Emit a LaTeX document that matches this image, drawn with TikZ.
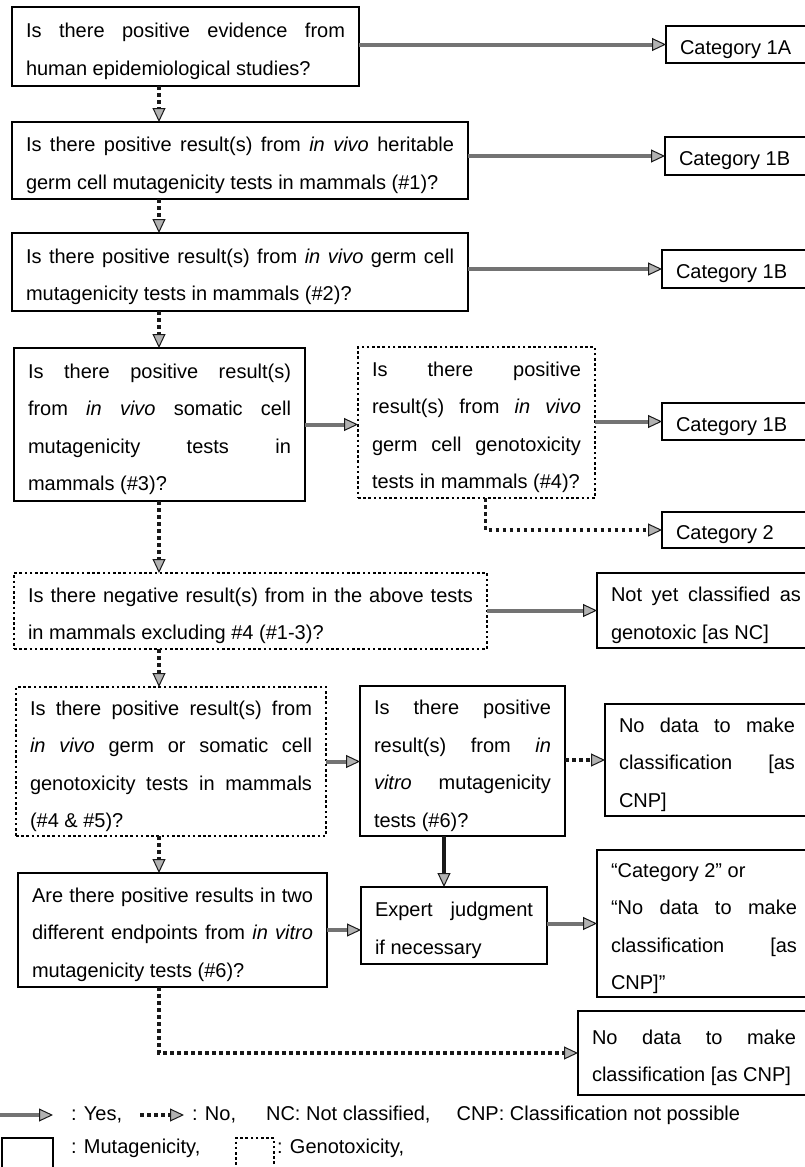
\documentclass[tikz,border=0pt]{standalone}
\usepackage{fontspec}
\setmainfont{Liberation Sans}
\usepackage{tikz}
\usetikzlibrary{arrows, arrows.meta, positioning}

\newcommand{\qfont}{\fontsize{20pt}{37.5pt}\selectfont}
\tolerance=10000
\hbadness=10000
\hyphenpenalty=10000
\exhyphenpenalty=10000

\begin{document}
\begin{tikzpicture}[x=1pt, y=-1pt]
\tikzstyle{block} = [rectangle, draw, line width=2.3pt, outer sep=0pt, inner xsep=14pt, inner ysep=0pt, align=justify, anchor=north west, font=\qfont, execute at begin node={\noindent\rule{0pt}{24pt}}]
\tikzstyle{gblock} = [block, line width=2.8pt, dash pattern=on 2.6pt off 2.6pt]
\tikzstyle{legbox} = [rectangle, draw, line width=2.3pt, outer sep=0pt, inner sep=0pt, anchor=north west]
\tikzstyle{line} = [draw=black!55, line width=4pt, -{Triangle[length=14pt, width=13pt, color=black!90, fill=gray!60, line width=1pt]}]
\tikzstyle{dline} = [line, draw=black!90, line width=3.5pt, dash pattern=on 3.5pt off 3.5pt]
\tikzstyle{legtext} = [font=\qfont, inner sep=0pt, outer sep=0pt]

\useasboundingbox (0,0) rectangle (805,1167);
\clip (0,0) rectangle (805,1167);
\coordinate (spine) at (159,0);
\coordinate (vx) at (444,0);

% left column
\node [block, text width=319pt, minimum height=79pt] (human) at (12,7) {Is there positive evidence from\break human epidemiological studies?};
\node [block, text width=428pt, minimum height=77pt] (heritable) at (12,122) {Is there positive result(s) from \textit{in vivo} heritable\break germ cell mutagenicity tests in mammals (\#1)?};
\node [block, text width=428pt, minimum height=78pt] (germ) at (12,233) {Is there positive result(s) from \textit{in vivo} germ cell\break mutagenicity tests in mammals (\#2)?};
\node [block, text width=263pt, minimum height=153pt] (somatic) at (14,348) {Is there positive result(s)\break from \textit{in vivo} somatic cell\break mutagenicity tests in\break mammals (\#3)?};
\node [gblock, text width=209pt, minimum height=151pt] (germgeno) at (358,347) {Is there positive\break result(s) from \textit{in vivo}\break germ cell genotoxicity\break tests in mammals (\#4)?};
\node [gblock, text width=445pt, minimum height=76pt] (negative) at (14,573) {Is there negative result(s) from in the above tests\break in mammals excluding \#4 (\#1-3)?};
\node [gblock, text width=282pt, minimum height=149pt] (genotox) at (16,687) {Is there positive result(s) from\break \textit{in vivo} germ or somatic cell\break genotoxicity tests in mammals\break (\#4 \& \#5)?};
\node [block, text width=177pt, minimum height=150pt] (invitro) at (360,686) {Is there positive\break result(s) from \textit{in}\break \textit{vitro} mutagenicity\break tests (\#6)?};
\node [block, text width=281pt, minimum height=114pt] (twoend) at (18,873) {Are there positive results in two\break different endpoints from \textit{in vitro}\break mutagenicity tests (\#6)?};
\node [block, text width=158pt, minimum height=77pt] (expert) at (361,887) {Expert judgment\break if necessary};

% right column
\node [block, text width=121pt, minimum height=37pt] (cata) at (666,26) {Category 1A};
\node [block, text width=122pt, minimum height=38pt] (catb1) at (665,137) {Category 1B};
\node [block, text width=125pt, minimum height=38pt] (catb2) at (662,250) {Category 1B};
\node [block, text width=125pt, minimum height=37pt] (catb3) at (662,403) {Category 1B};
\node [block, text width=125pt, minimum height=36pt] (cattwo) at (662,512) {Category 2};
\node [block, text width=190pt, minimum height=75pt] (notyet) at (597,573) {Not yet classified as\break genotoxic [as NC]};
\node [block, text width=176pt, minimum height=112pt] (nodata) at (605,704) {No data to make\break classification [as\break CNP]};
\node [block, text width=186pt, minimum height=147pt] (eitheror) at (597,850) {“Category 2" or\hfil\break “No data to make\break classification [as\break CNP]"};
\node [block, text width=204pt, minimum height=84pt] (nodatab) at (578,1011) {No data to make\break classification [as CNP]};

% no
\path [dline] (human.south -| spine) -- (heritable.north -| spine);
\path [dline] (heritable.south -| spine) -- (germ.north -| spine);
\path [dline] (germ.south -| spine) -- (somatic.north -| spine);
\path [dline] (somatic.south -| spine) -- (negative.north -| spine);
\path [dline] (negative.south -| spine) -- (genotox.north -| spine);
\path [dline] (genotox.south -| spine) -- (twoend.north -| spine);
\path [dline] (twoend.south -| spine) |- (nodatab.west);
\path [dline] ([xshift=9pt]germgeno.south) |- (cattwo.west);
\path [dline] (invitro.east |- nodata) -- (nodata.west);

% yes
\path [line] (human.east |- cata) -- (cata.west);
\path [line] (heritable.east |- catb1) -- (catb1.west);
\path [line] (germ.east |- catb2) -- (catb2.west);
\path [line] (somatic.east) -- (somatic.east -| germgeno.west);
\path [line] (germgeno.east |- catb3) -- (catb3.west);
\path [line] (negative.east |- notyet) -- (notyet.west);
\path [line] (genotox.east) -- (genotox.east -| invitro.west);
\path [line, draw=black!90] (invitro.south -| vx) -- (expert.north -| vx);
\path [line] (twoend.east) -- (twoend.east -| expert.west);
\path [line] (expert.east |- eitheror) -- (eitheror.west);

% legend
\coordinate (ya) at (0,1115);
\coordinate (yb) at (53,1115);
\path [line] (ya) -- (yb);
\node [legtext, right=18pt of yb] (lyes) {: Yes,};
\coordinate (na) at (140,1115);
\coordinate (nb) at (184,1115);
\path [dline] (na) -- (nb);
\node [legtext, right=8pt of nb] (lno) {: No,};
\node [legtext, right=30pt of lno] (lnc) {NC: Not classified,};
\node [legtext, right=26pt of lnc] (lcnp) {CNP: Classification not possible};
\node [legbox, minimum width=51pt, minimum height=40pt] (lmut) at (2,1138) {};
\node [legtext, anchor=base west] (lmtext) at (71,1153) {: Mutagenicity,};
\node [legbox, line width=2.8pt, dash pattern=on 2.6pt off 2.6pt, minimum width=38pt, minimum height=40pt] (lgen) at (236,1138) {};
\node [legtext, anchor=base west] (lgtext) at (277,1153) {: Genotoxicity,};

\end{tikzpicture}
\end{document}
